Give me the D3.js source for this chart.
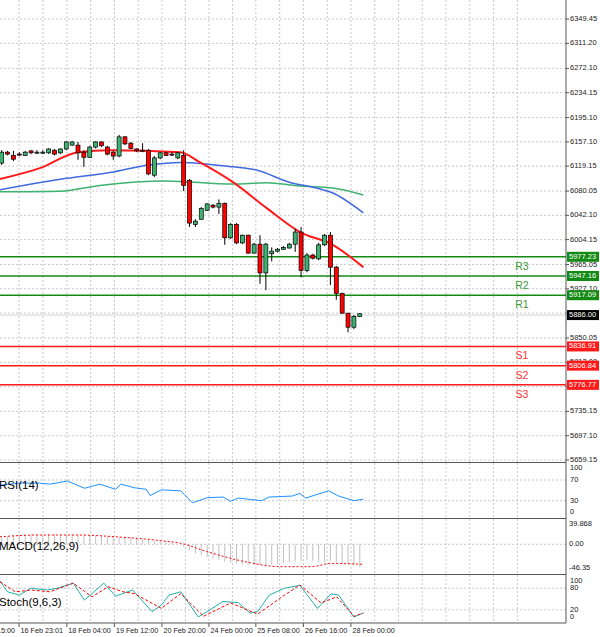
<!DOCTYPE html>
<html><head><meta charset="utf-8">
<script src="https://cdn.jsdelivr.net/npm/d3@7/dist/d3.min.js"></script>
<style>body{margin:0;background:#fff}svg{display:block;font-family:"Liberation Sans",sans-serif}</style>
</head><body><svg id="c" width="600" height="637"></svg>
<script>
// ---- DATA ----
const opens  = [6124,6141,6136,6138,6136,6143,6141,6141,6140,6144,6140,6146,6152,6152,6141,6133,6149,6157,6149,6141,6135,6165,6155,6146,6144,6144,6105,6132,6140,6138,6132,6136,6097,6028,6036,6050,6058,6055,6061,6007,6028,5999,6011,5983,5997,5952,5982,5986,5989,5991,5997,6016,5956,5980,5974,5996,6011,5961,5920,5889,5867,5884];
const highs  = [6144,6143,6143,6141,6143,6144,6144,6144,6147,6146,6147,6158,6158,6157,6144,6151,6158,6158,6151,6143,6168,6166,6157,6147,6155,6146,6135,6141,6141,6141,6141,6144,6099,6036,6055,6061,6060,6067,6062,6030,6030,6012,6012,5999,6011,5999,5992,5991,5994,5999,6021,6024,5983,5982,5999,6013,6016,5963,5921,5889,5886,5889];
const lows   = [6121,6136,6127,6135,6135,6138,6138,6138,6138,6136,6138,6144,6151,6129,6118,6132,6147,6149,6136,6129,6133,6152,6146,6141,6141,6105,6102,6130,6135,6135,6130,6080,6024,6024,6035,6049,6053,6044,5996,6005,5997,5997,5982,5982,5935,5925,5970,5984,5988,5990,5985,5945,5953,5973,5972,5994,5933,5910,5888,5859,5864,5883];
const closes = [6141,6138,6130,6137,6141,6140,6141,6141,6146,6138,6146,6157,6157,6140,6133,6149,6157,6151,6138,6135,6165,6154,6147,6143,6143,6107,6132,6140,6136,6137,6140,6089,6030,6033,6053,6060,6055,6061,6007,6028,5999,6011,5983,5997,5952,5997,5986,5989,5992,5997,6016,5956,5980,5975,5996,6011,5961,5920,5889,5867,5884,5888];
const maFast = [[-0.3,6099],[6.5,6116],[13,6141],[18.5,6144],[30.4,6141],[33.8,6125],[39.4,6094],[45.2,6053],[50.8,6016],[56.4,5996],[61.6,5961]];
const maMid  = [[-0.3,6082],[11,6100],[19,6110],[25,6121],[30.5,6125],[39.4,6118],[43.4,6113],[49,6094],[53.6,6085],[56.4,6077],[61.6,6046]];
const maSlow = [[-0.3,6079],[10,6080],[16.7,6089],[28,6096],[39.4,6091],[45,6093],[50.8,6088],[56.4,6085],[61.6,6074]];
const priceTicks = [6349.45,6311.20,6272.10,6234.15,6195.10,6157.10,6119.15,6080.05,6042.10,6004.15,5965.05,5927.10,5889.00,5850.05,5812.00,5774.00,5735.15,5697.10,5659.15];
const levelNames  = ["R3","R2","R1","S1","S2","S3"];
const levelValues = [5977.23,5947.16,5917.09,5836.91,5806.84,5776.77];
const lastPrice = 5886.00;
const rsi = [[-0.3,60],[3,64],[6.3,64],[8.2,62],[11.2,68],[14.1,54],[16.7,62],[19.4,52],[20.3,62],[22.6,55],[24.6,52],[25.3,40],[27.2,51],[30.5,49],[32.5,26],[35.1,36],[37.7,37],[39,29],[40.3,35],[44.3,30],[45.5,37],[49.5,39],[50.8,44],[51.8,35],[53.4,41],[55.7,49],[57.4,39],[60,30],[61.6,33]];
const macdHist = [14,16,18,19,20,20,20,20,20,20,20,20,19,19,18,18,17,17,16,16,15,15,14,13,10,8,7,6,5,3,0,-5,-12,-18,-22,-25,-28,-32,-35,-37,-38,-40,-41,-41,-42,-42,-41,-40,-38,-36,-34,-33,-32,-33,-34,-35,-33,-36,-38,-40,-42,-46];
const macdSignal = [[-0.3,15],[6.3,18.5],[12.8,18.5],[19.4,15],[27.2,7],[30.5,2],[35.1,-15],[41.6,-35],[47.5,-44.6],[52.8,-44.6],[56.1,-38],[61.6,-40]];
const stochMain = [[-0.3,100],[1,70],[3,61],[5,80],[7.6,75],[9.5,80],[12.2,94],[14.1,47],[17.4,94],[19.4,58],[22.3,75],[25.6,15],[27.2,33],[28.5,61],[30.5,70],[33.5,0],[37.7,43],[40.3,40],[42.3,11],[43.6,15],[45.6,61],[48.2,80],[50.8,88],[53.8,24],[56.1,64],[57.4,61],[60,0],[61.6,11]];
const stochSig = [[-0.3,98],[2.3,70],[5,75],[8.2,70],[12.2,94],[15.4,56],[18.1,84],[20.7,70],[22.6,65],[27.2,24],[30.5,65],[34.4,2],[39,39],[43.6,8],[48.2,61],[50.8,89],[54.4,39],[57.1,56],[60,2],[61.6,11]];
const timeLabels = ["16 Feb 15:00","16 Feb 23:01","18 Feb 04:00","19 Feb 12:00","20 Feb 20:00","24 Feb 00:00","25 Feb 08:00","26 Feb 16:00","28 Feb 00:00"];
const timeIdx = [-5.2,2.95,11.1,19.2,27.3,35.3,43.3,51.4,59.5];

// ---- DRAW ----
const svg = d3.select("#c");
const AX = 566;
const x = d3.scaleLinear().domain([0,1]).range([1.7,7.57]);
const y = d3.scaleLinear().domain([5659.15,6349.45]).range([460,19]);
const yR = d3.scaleLinear().domain([30,70]).range([500.7,480]);
const yM = d3.scaleLinear().domain([0,39.868]).range([544.3,524.3]);
const yS = d3.scaleLinear().domain([0,100]).range([617,581]);
const grid = "#c8c8c8";
const panels = [[0,462],[463,518],[519,574],[575,623]];

const vg = [];
for (let i=0;i<timeIdx.length;i++){ vg.push(timeIdx[i]); if(i<timeIdx.length-1) vg.push((timeIdx[i]+timeIdx[i+1])/2); }
for (let k=1;k<=7;k++) vg.push(timeIdx[timeIdx.length-1]+k*4.05);
panels.forEach(([t,b])=>{
  vg.forEach(v=>{ const xx=x(v); if(xx>0&&xx<AX) svg.append("line").attr("x1",xx).attr("x2",xx).attr("y1",t).attr("y2",b).attr("stroke",grid).attr("stroke-dasharray","2,2"); });
});
priceTicks.forEach(p=>svg.append("line").attr("x1",0).attr("x2",AX).attr("y1",y(p)).attr("y2",y(p)).attr("stroke",grid).attr("stroke-dasharray","2,2"));
[[yR,70],[yR,30],[yM,0],[yS,80],[yS,20]].forEach(([s,v])=>svg.append("line").attr("x1",0).attr("x2",AX).attr("y1",s(v)).attr("y2",s(v)).attr("stroke",grid).attr("stroke-dasharray","2,2"));

svg.append("line").attr("x1",0).attr("x2",AX).attr("y1",y(lastPrice)).attr("y2",y(lastPrice)).attr("stroke","#d8d8d8");

levelValues.forEach((v,i)=>{
  const col = i<3 ? "#138a13" : "#ff1a1a";
  svg.append("line").attr("x1",0).attr("x2",AX).attr("y1",y(v)).attr("y2",y(v)).attr("stroke",col).attr("stroke-width",1.5);
  svg.append("text").attr("x",522).attr("y",y(v)+13).attr("text-anchor","middle").attr("font-size",10.5).attr("fill",i<3?"#3a9a3a":"#ff3030").text(levelNames[i]);
});

const line = d3.line().x(d=>x(d[0])).y(d=>y(d[1])).curve(d3.curveMonotoneX);
svg.append("path").attr("d",line(maSlow)).attr("fill","none").attr("stroke","#3cb371").attr("stroke-width",1.5);
svg.append("path").attr("d",line(maMid)).attr("fill","none").attr("stroke","#4169e1").attr("stroke-width",1.5);
svg.append("path").attr("d",line(maFast)).attr("fill","none").attr("stroke","#ff1a1a").attr("stroke-width",2);

opens.forEach((o,i)=>{
  const c=closes[i], xx=x(i);
  svg.append("line").attr("x1",xx).attr("x2",xx).attr("y1",y(highs[i])).attr("y2",y(lows[i])).attr("stroke","#000");
  const top=y(Math.max(o,c)), h=Math.max(1,y(Math.min(o,c))-top);
  svg.append("rect").attr("x",xx-2).attr("y",top).attr("width",4).attr("height",h)
    .attr("fill",c>=o?"#3cb371":"#ff0000").attr("stroke","#000").attr("stroke-width",0.7);
});

const lr = d3.line().x(d=>x(d[0])).y(d=>yR(d[1]));
svg.append("path").attr("d",lr(rsi)).attr("fill","none").attr("stroke","#1e90ff").attr("stroke-width",1);
macdHist.forEach((v,i)=>svg.append("line").attr("x1",x(i)).attr("x2",x(i)).attr("y1",yM(0)).attr("y2",yM(v)).attr("stroke","#c0c0c0").attr("stroke-width",1));
const lm = d3.line().x(d=>x(d[0])).y(d=>yM(d[1])).curve(d3.curveMonotoneX);
svg.append("path").attr("d",lm(macdSignal)).attr("fill","none").attr("stroke","#ff0000").attr("stroke-dasharray","2,2");
const ls = d3.line().x(d=>x(d[0])).y(d=>yS(d[1]));
svg.append("path").attr("d",ls(stochMain)).attr("fill","none").attr("stroke","#20b2aa").attr("stroke-width",1);
svg.append("path").attr("d",ls(stochSig)).attr("fill","none").attr("stroke","#ff0000").attr("stroke-dasharray","3,2");

[["RSI(14)",yR(58)],["MACD(12,26,9)",yM(-6)],["Stoch(9,6,3)",yS(40)]].forEach(([t,yy])=>
  svg.append("text").attr("x",-1).attr("y",yy).attr("font-size",11.5).attr("fill","#000").attr("dominant-baseline","middle").text(t));

[462.5,518.5,574.5,623].forEach(v=>{
  svg.append("line").attr("x1",0).attr("x2",AX).attr("y1",v).attr("y2",v).attr("stroke","#555").attr("stroke-width",1.2);
});
svg.append("line").attr("x1",AX).attr("x2",AX).attr("y1",0).attr("y2",623).attr("stroke","#555");

const fs=7.5;
priceTicks.forEach(p=>{
  svg.append("line").attr("x1",AX).attr("x2",AX+3).attr("y1",y(p)).attr("y2",y(p)).attr("stroke","#555");
  svg.append("text").attr("x",AX+4).attr("y",y(p)).attr("dominant-baseline","middle").attr("font-size",fs).attr("fill","#222").text(p.toFixed(2));
});
levelValues.forEach((v,i)=>{
  svg.append("rect").attr("x",AX+1).attr("y",y(v)-5).attr("width",32).attr("height",10).attr("fill",i<3?"#138a13":"#ff1a1a");
  svg.append("text").attr("x",AX+3).attr("y",y(v)).attr("dominant-baseline","middle").attr("font-size",fs).attr("fill","#fff").text(v.toFixed(2));
});
svg.append("rect").attr("x",AX+1).attr("y",y(lastPrice)-5).attr("width",32).attr("height",10).attr("fill","#000");
svg.append("text").attr("x",AX+3).attr("y",y(lastPrice)).attr("dominant-baseline","middle").attr("font-size",fs).attr("fill","#fff").text(lastPrice.toFixed(2));
[[100,"100",468.3],[70,"70",yR(70)],[30,"30",yR(30)],[0,"0",512.3]].forEach(([v,t,yy])=>
  svg.append("text").attr("x",AX+4).attr("y",yy).attr("dominant-baseline","middle").attr("font-size",fs).attr("fill","#222").text(t));
[[39.868,"39.868"],[0,"0.00"],[-46.35,"-46.35"]].forEach(([v,t])=>
  svg.append("text").attr("x",AX+3).attr("y",yM(v)).attr("dominant-baseline","middle").attr("font-size",fs).attr("fill","#222").text(t));
[[100,"100"],[80,"80"],[20,"20"],[0,"0"]].forEach(([v,t])=>
  svg.append("text").attr("x",AX+4).attr("y",yS(v)).attr("dominant-baseline","middle").attr("font-size",fs).attr("fill","#222").text(t));

timeLabels.forEach((t,i)=>{
  const xx=x(timeIdx[i]);
  svg.append("line").attr("x1",xx).attr("x2",xx).attr("y1",623).attr("y2",627).attr("stroke","#555");
  svg.append("text").attr("x",xx+1.5).attr("y",631).attr("dominant-baseline","middle").attr("font-size",7.2).attr("fill","#222").text(t);
});
</script></body></html>
